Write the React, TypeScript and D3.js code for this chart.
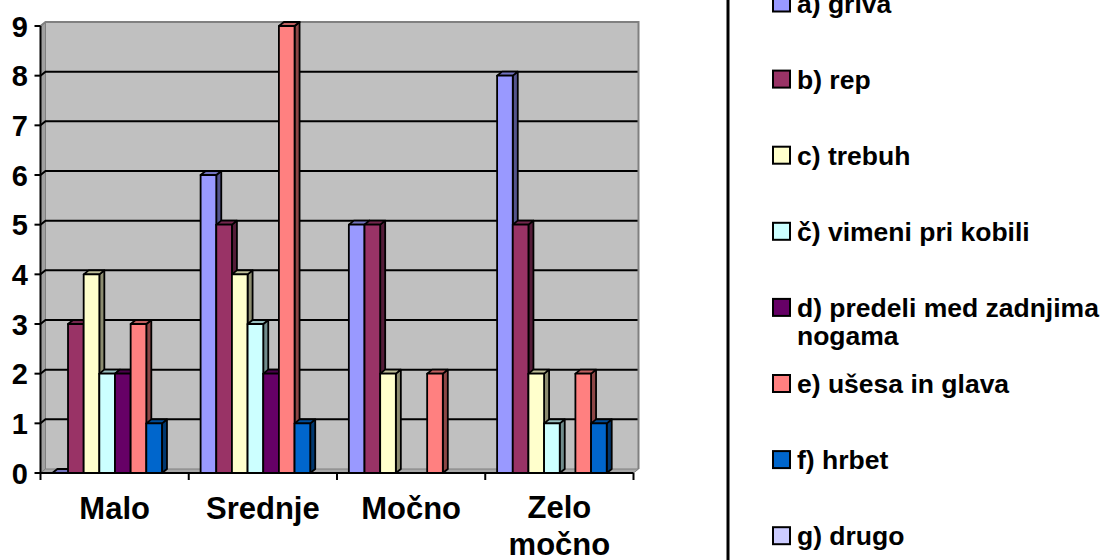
import React from "react";
import * as d3 from "d3";

const categories = ["Malo", "Srednje", "Močno", "Zelo močno"];
const seriesNames = [
  "a) griva",
  "b) rep",
  "c) trebuh",
  "č) vimeni pri kobili",
  "d) predeli med zadnjima nogama",
  "e) ušesa in glava",
  "f) hrbet",
  "g) drugo",
];
const seriesColors = ["#9999FF", "#993366", "#FFFFCC", "#CCFFFF", "#660066", "#FF8080", "#0066CC", "#CCCCFF"];
// values per series, one entry per category (null = no bar)
const griva = [0, 6, 5, 8];
const rep = [3, 5, 5, 5];
const trebuh = [4, 4, 2, 2];
const vimeni = [2, 3, null, 1];
const predeli = [2, 2, null, null];
const usesa = [3, 9, 2, 2];
const hrbet = [1, 1, null, 1];
const drugo = [null, null, null, null];
const seriesValues = [griva, rep, trebuh, vimeni, predeli, usesa, hrbet, drugo];
const yTicks = [0, 1, 2, 3, 4, 5, 6, 7, 8, 9];

const FONT = "'Liberation Sans', Arial, sans-serif";

function wrap(label: string, maxChars: number): string[] {
  const words = label.split(" ");
  const lines: string[] = [];
  let cur = "";
  for (const w of words) {
    const next = cur ? cur + " " + w : w;
    if (next.length > maxChars && cur) {
      lines.push(cur);
      cur = w;
    } else cur = next;
  }
  if (cur) lines.push(cur);
  return lines;
}

function shade(c: string, k: number): string {
  const r = d3.rgb(c);
  return d3.rgb(r.r * k, r.g * k, r.b * k).formatHex();
}

export default function App() {
  const left = 40.5;
  const right = 633.5;
  const y = d3.scaleLinear().domain([0, 9]).range([473, 26]);
  const x0 = d3.scaleBand<string>().domain(categories).range([left, right]).padding(0);
  const bw = x0.bandwidth();
  const x1 = d3
    .scaleBand<string>()
    .domain(seriesNames)
    .range([bw * 0.08, bw * 0.925])
    .padding(0);
  const dx = 5;
  const dy = -4;
  const wallL = left + dx;
  const wallR = right + dx;
  const wallTop = y(9) + dy;
  const wallBot = y(0) + dy;

  const bars: React.ReactNode[] = [];
  categories.forEach((cat, ci) => {
    seriesNames.forEach((s, si) => {
      const v = seriesValues[si][ci];
      if (v === null || v === undefined) return;
      const xl = (x0(cat) as number) + (x1(s) as number);
      const w = x1.bandwidth();
      const xr = xl + w;
      const yt = y(v);
      const yb = y(0);
      const col = seriesColors[si];
      bars.push(
        <g key={`${ci}-${si}`} stroke="#000" strokeWidth={1.8} strokeLinejoin="round">
          <polygon
            points={`${xr},${yb} ${xr + dx},${yb + dy} ${xr + dx},${yt + dy} ${xr},${yt}`}
            fill={shade(col, 0.55)}
          />
          <polygon
            points={`${xl},${yt} ${xl + dx},${yt + dy} ${xr + dx},${yt + dy} ${xr},${yt}`}
            fill={shade(col, 0.75)}
          />
          <rect x={xl} y={yt} width={w} height={yb - yt} fill={col} />
        </g>
      );
    });
  });

  const legendX = 773;
  const legendY0 = 12.5;
  const legendStep = 76.1;

  return (
    <svg
      width={1104}
      height={560}
      style={{ position: "absolute", left: 0, top: 0, background: "#fff" }}
      fontFamily={FONT}
    >
      {/* back wall */}
      <rect x={wallL} y={wallTop} width={wallR - wallL} height={wallBot - wallTop} fill="#C0C0C0" />
      {/* left side wall */}
      <polygon
        points={`${left},${y(9)} ${wallL},${wallTop} ${wallL},${wallBot} ${left},${y(0)}`}
        fill="#A0A0A0"
        stroke="#808080"
        strokeWidth={1}
      />
      {/* gridlines */}
      {yTicks
        .filter((t) => t > 0 && t < 9)
        .map((t) => (
          <polyline
            key={t}
            points={`${left},${y(t)} ${wallL},${y(t) + dy} ${wallR},${y(t) + dy}`}
            fill="none"
            stroke="#000"
            strokeWidth={2}
          />
        ))}
      {/* wall top and right edges */}
      <polyline
        points={`${left},${y(9)} ${wallL},${wallTop} ${wallR},${wallTop} ${wallR},${wallBot}`}
        fill="none"
        stroke="#808080"
        strokeWidth={2}
      />
      {/* floor */}
      <polygon
        points={`${left},${y(0)} ${right},${y(0)} ${wallR},${wallBot} ${wallL},${wallBot}`}
        fill="#A8A8A8"
        stroke="#808080"
        strokeWidth={1}
      />
      {bars}
      {/* axes */}
      <line x1={left} x2={left} y1={y(9)} y2={y(0)} stroke="#000" strokeWidth={2} />
      <line x1={left} x2={right} y1={y(0)} y2={y(0)} stroke="#000" strokeWidth={2} />
      {yTicks.map((t) => (
        <g key={t}>
          <line x1={left - 6} x2={left} y1={y(t)} y2={y(t)} stroke="#000" strokeWidth={2} />
          <text
            x={28}
            y={y(t) + 10.5}
            textAnchor="end"
            fontSize={29}
            fontWeight="bold"
          >
            {t}
          </text>
        </g>
      ))}
      {[...categories.map((c) => x0(c) as number), right].map((xv, i) => (
        <line key={i} x1={xv} x2={xv} y1={y(0)} y2={y(0) + 7} stroke="#000" strokeWidth={2} />
      ))}
      {categories.map((c) => {
        const lines = wrap(c, 6);
        return (
          <text
            key={c}
            x={(x0(c) as number) + bw / 2}
            y={lines.length > 1 ? 518 : 519}
            textAnchor="middle"
            fontSize={31}
            fontWeight="bold"
          >
            {lines.map((l, li) => (
              <tspan key={li} x={(x0(c) as number) + bw / 2} dy={li === 0 ? 0 : 37}>
                {l}
              </tspan>
            ))}
          </text>
        );
      })}
      {/* legend */}
      <line x1={728} x2={728} y1={0} y2={560} stroke="#000" strokeWidth={3} />
      {seriesNames.map((s, i) => {
        const by = legendY0 + i * legendStep;
        const lines = wrap(s, 24);
        return (
          <g key={s}>
            <rect
              x={legendX}
              y={by - 18}
              width={17}
              height={17}
              fill={seriesColors[i]}
              stroke="#000"
              strokeWidth={2}
            />
            <text x={797} y={by} fontSize={26.5} fontWeight="bold">
              {lines.map((l, li) => (
                <tspan key={li} x={797} dy={li === 0 ? 0 : 28}>
                  {l}
                </tspan>
              ))}
            </text>
          </g>
        );
      })}
    </svg>
  );
}
